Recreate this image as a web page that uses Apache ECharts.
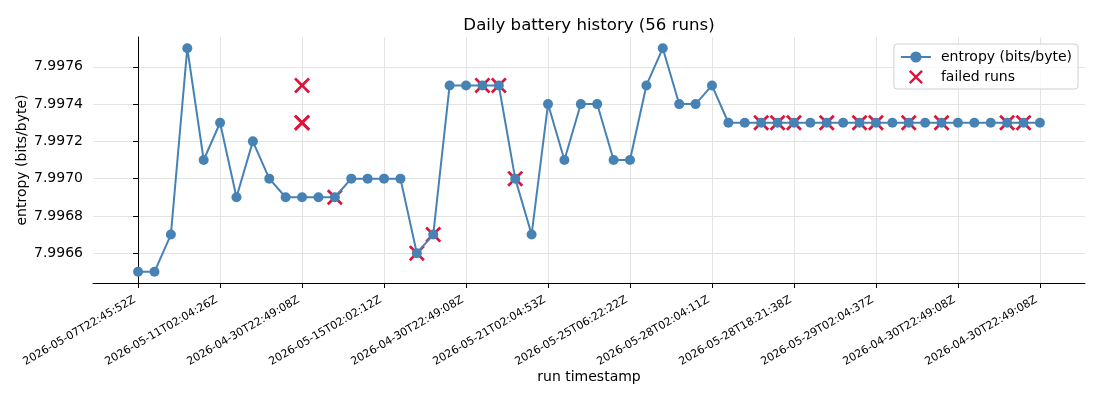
<!DOCTYPE html>
<html>
<head>
<meta charset="utf-8">
<script src="https://cdn.jsdelivr.net/npm/echarts@6/dist/echarts.min.js"></script>
<style>html,body{margin:0;padding:0;background:#fff;}#c{width:1100px;height:400px;}</style>
</head>
<body>
<div id="c"></div>
<script>
// ---- data ----
const entropy = [
  7.9965, 7.9965, 7.9967, 7.9977, 7.9971, 7.9973, 7.9969, 7.9972, 7.9970, 7.9969,
  7.9969, 7.9969, 7.9969, 7.9970, 7.9970, 7.9970, 7.9970, 7.9966, 7.9967, 7.9975,
  7.9975, 7.9975, 7.9975, 7.9970, 7.9967, 7.9974, 7.9971, 7.9974, 7.9974, 7.9971,
  7.9971, 7.9975, 7.9977, 7.9974, 7.9974, 7.9975, 7.9973, 7.9973, 7.9973, 7.9973,
  7.9973, 7.9973, 7.9973, 7.9973, 7.9973, 7.9973, 7.9973, 7.9973, 7.9973, 7.9973,
  7.9973, 7.9973, 7.9973, 7.9973, 7.9973, 7.9973
];
const failedIndex = [10, 10, 10, 12, 17, 18, 21, 22, 23, 38, 39, 40, 42, 44, 45, 47, 49, 53, 54];
const failedValue = [7.9975, 7.9973, 7.9973, 7.9969, 7.9966, 7.9967, 7.9975, 7.9975, 7.9970,
  7.9973, 7.9973, 7.9973, 7.9973, 7.9973, 7.9973, 7.9973, 7.9973, 7.9973, 7.9973];
const tickIndex = [0, 5, 10, 15, 20, 25, 30, 35, 40, 45, 50, 55];
const tickLabels = [
  '2026-05-07T22:45:52Z', '2026-05-11T02:04:26Z', '2026-04-30T22:49:08Z', '2026-05-15T02:02:12Z',
  '2026-04-30T22:49:08Z', '2026-05-21T02:04:53Z', '2026-05-25T06:22:22Z', '2026-05-28T02:04:11Z',
  '2026-05-28T18:21:38Z', '2026-05-29T02:04:37Z', '2026-04-30T22:49:08Z', '2026-04-30T22:49:08Z'
];
const yTicks = [7.9966, 7.9968, 7.9970, 7.9972, 7.9974, 7.9976];

// ---- chart ----
const FONT = 'DejaVu Sans';
const lineData = entropy.map((v, i) => [i, v]);
const failData = failedIndex.map((x, i) => [x, failedValue[i]]);
const crossPath = 'path://M0,12 L12,0 L50,38 L88,0 L100,12 L62,50 L100,88 L88,100 L50,62 L12,100 L0,88 L38,50 Z';

const chart = echarts.init(document.getElementById('c'), null, {renderer: 'canvas'});
chart.setOption({
  animation: false,
  backgroundColor: '#fff',
  textStyle: {fontFamily: FONT, color: '#000'},
  title: {
    text: 'Daily battery history (56 runs)',
    left: 584, top: 12, textAlign: 'center',
    textStyle: {fontFamily: FONT, fontSize: 16.6, fontWeight: 'normal', color: '#000'}
  },
  legend: {
    orient: 'vertical', right: 22, top: 44,
    padding: [6, 6, 5, 6],
    itemWidth: 30, itemHeight: 14, itemGap: 6,
    borderColor: '#d0d0d0', borderWidth: 1, borderRadius: 3,
    backgroundColor: 'rgba(255,255,255,0.8)',
    textStyle: {fontFamily: FONT, fontSize: 14, color: '#000', padding: [0, 0, 0, 5]},
    data: ['entropy (bits/byte)', 'failed runs']
  },
  grid: {left: 93, right: 15, top: 37, bottom: 117, containLabel: false},
  xAxis: {
    type: 'value', min: -2.75, max: 57.75,
    name: 'run timestamp', nameLocation: 'middle', nameGap: 87, nameMoveOverlap: false,
    nameTextStyle: {fontFamily: FONT, fontSize: 14, color: '#000'},
    axisLine: {show: true, lineStyle: {color: '#000', width: 1}},
    axisTick: {show: true, length: 5, lineStyle: {color: '#000'}, customValues: tickIndex},
    axisLabel: {
      customValues: tickIndex, rotate: 30, fontSize: 11, fontFamily: FONT, color: '#000', margin: 14,
      padding: [0, 4, 0, 0],
      formatter: v => { const k = tickIndex.indexOf(Math.round(v)); return k >= 0 ? tickLabels[k] : ''; }
    },
    splitLine: {show: true, lineStyle: {color: '#e3e3e3', width: 1}}
  },
  yAxis: {
    type: 'value', min: 7.99644, max: 7.99776,
    name: 'entropy (bits/byte)', nameLocation: 'middle', nameGap: 64, nameMoveOverlap: false,
    nameTextStyle: {fontFamily: FONT, fontSize: 14, color: '#000'},
    axisLine: {show: true, lineStyle: {color: '#000', width: 1}},
    axisTick: {show: true, length: 5, lineStyle: {color: '#000'}, customValues: yTicks},
    axisLabel: {customValues: yTicks, fontSize: 14, fontFamily: FONT, color: '#000', margin: 10,
      formatter: v => v.toFixed(4)},
    splitLine: {show: true, lineStyle: {color: '#e3e3e3', width: 1}}
  },
  series: [
    {
      name: 'entropy (bits/byte)', type: 'line', data: lineData, z: 3,
      symbol: 'circle', symbolSize: 10, showSymbol: true,
      itemStyle: {color: '#4682b4'},
      lineStyle: {color: '#4682b4', width: 2}
    },
    {
      name: 'failed runs', type: 'scatter', data: failData, z: 2,
      symbol: crossPath, symbolSize: 16,
      itemStyle: {color: '#dc143c', opacity: 1}
    }
  ]
});
</script>
</body>
</html>
